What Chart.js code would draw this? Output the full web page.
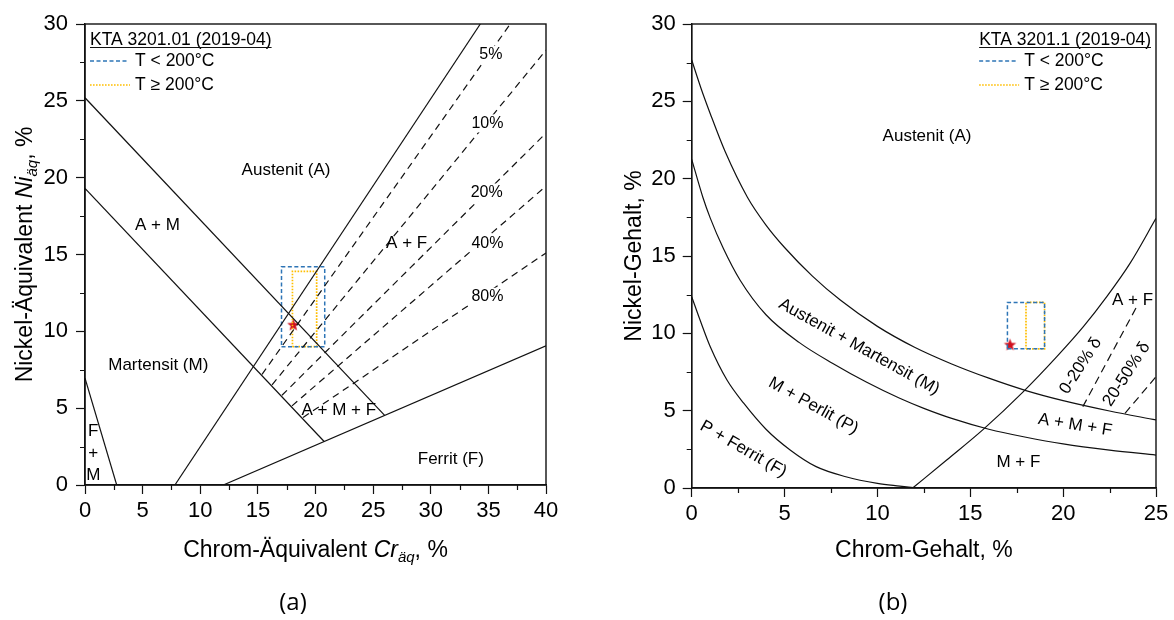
<!DOCTYPE html>
<html><head><meta charset="utf-8">
<script src="https://cdn.jsdelivr.net/npm/chart.js@4/dist/chart.umd.min.js"></script>
<style>
html,body{margin:0;padding:0;background:#fff;}
#wrap{position:relative;width:1174px;height:620px;overflow:hidden;}
canvas{position:absolute;top:0;}
#ca{left:0px;}
#cb{left:587px;}
</style></head><body>
<div id="wrap"><canvas id="ca" width="587" height="620"></canvas><canvas id="cb" width="587" height="620"></canvas></div>
<script>
// ================= (a) Schaeffler diagram =================
const aXMajor = [0, 5, 10, 15, 20, 25, 30, 35, 40];
const aXMinor = [2.5, 7.5, 12.5, 17.5, 22.5, 27.5, 32.5, 37.5];
const aYMajor = [0, 5, 10, 15, 20, 25, 30];
const aYMinor = [2.5, 7.5, 12.5, 17.5, 22.5, 27.5];

// solid phase boundaries (Cr-eq, Ni-eq)
const aAM_x  = [0, 26.0];   const aAM_y  = [25.2, 4.53];
const aM_x   = [0, 20.75];  const aM_y   = [19.3, 2.83];
const aA_x   = [7.8, 34.3]; const aA_y   = [0, 30];
const aF_x   = [12, 40];    const aF_y   = [0, 9.06];
const aFM_x  = [0, 2.75];   const aFM_y  = [6.95, 0];
// ferrite iso-lines
const aF5_x  = [15.36, 36.9]; const aF5_y  = [7.2, 30];
const aF10_x = [16.23, 40];   const aF10_y = [6.52, 28.3];
const aF20_x = [17.09, 40];   const aF20_y = [5.84, 22.9];
const aF40_x = [17.96, 40];   const aF40_y = [5.15, 19.45];
const aF80_x = [18.92, 40];   const aF80_y = [4.39, 15.1];
// KTA ranges and material point
const aBlueCr = [17.05, 20.8];   const aBlueNi = [9.0, 14.2];
const aOrangeCr = [18.0, 20.1];  const aOrangeNi = [9.0, 13.9];
const aStarCr = [18.07];         const aStarNi = [10.4];
// region labels
const aLabelText = ['Austenit (A)', 'A + M', 'A + F', 'Martensit (M)', 'A + M + F', 'Ferrit (F)', 'F', '+', 'M'];
const aLabelCr   = [17.44, 6.29, 27.91, 6.36, 22.02, 31.74, 0.72, 0.72, 0.72];
const aLabelNi   = [20.49, 16.92, 15.73, 7.76, 4.88, 1.68, 3.47, 2.06, 0.65];
const aPctText = ['5%', '10%', '20%', '40%', '80%'];
const aPctCr   = [35.21, 34.92, 34.85, 34.92, 34.92];
const aPctNi   = [27.98, 23.53, 19.03, 15.73, 12.25];

// ================= (b) Strauss-Maurer diagram =================
const bXMajor = [0, 5, 10, 15, 20, 25];
const bXMinor = [2.5, 7.5, 12.5, 17.5, 22.5];
const bYMajor = [0, 5, 10, 15, 20, 25, 30];
const bYMinor = [2.5, 7.5, 12.5, 17.5, 22.5, 27.5];

const bA_x = [0, 0.5, 1, 1.8, 3, 4, 5, 6.5, 8, 10, 12, 14, 16, 18, 20, 22.5, 25];
const bA_y = [27.67, 25.85, 24.2, 21.75, 18.8, 17.0, 15.55, 13.7, 12.15, 10.45, 9.1, 8.02, 7.1, 6.3, 5.65, 4.98, 4.4];
const bM_x = [0, 0.6, 1, 1.7, 2.6, 4, 5.8, 7.6, 9.4, 11.2, 12.5, 14, 16, 18, 20, 22.5, 25];
const bM_y = [21.25, 18.8, 17.45, 15.5, 13.45, 11.2, 9.4, 8.05, 6.85, 5.8, 5.15, 4.5, 3.8, 3.28, 2.85, 2.45, 2.13];
const bP_x = [0, 0.45, 1, 1.9, 2.8, 4, 5.3, 6.7, 8.3, 10, 11.2, 11.93];
const bP_y = [12.37, 10.86, 9.13, 6.98, 5.48, 3.8, 2.46, 1.38, 0.73, 0.3, 0.12, 0.02];
const bF_x = [11.93, 13.73, 15.7, 17.86, 19.66, 21.09, 22.35, 23.6, 25];
const bF_y = [0.03, 1.81, 3.79, 6.23, 8.49, 10.43, 12.37, 14.52, 17.43];
const bD1_x = [21.06, 23.96]; const bD1_y = [5.26, 11.72];
const bD2_x = [23.33, 25];    const bD2_y = [4.83, 7.19];
const bBlueCr = [17, 19];   const bBlueNi = [9, 12];
const bOrangeCr = [18, 19]; const bOrangeNi = [9, 12];
const bStarCr = [17.14];    const bStarNi = [9.24];
const bLabelText = ['Austenit (A)', 'Austenit + Martensit (M)', 'M + Perlit (P)', 'P + Ferrit (F)', 'A + F', 'A + M + F', 'M + F', '0-20% δ', '20-50% δ'];
const bLabelCr   = [12.67, 9.01, 6.55, 2.78, 23.74, 20.64, 17.59, 20.95, 23.42];
const bLabelNi   = [22.77, 9.13, 5.31, 2.51, 12.15, 4.07, 1.65, 7.9, 7.36];
const bLabelRot  = [0, 29, 29, 30, 0, 9, 0, -57, -57];

// ================= helpers =================
const FONT = "'Liberation Sans', Arial, sans-serif";
const BLUE = '#2E75B6', ORANGE = '#FFBE00', STAR = '#D0101E', INK = '#111';

function pts(xs, ys) { return xs.map((v, i) => ({ x: v, y: ys[i] })); }
function rectPts(xr, yr) {
  return pts([xr[0], xr[1], xr[1], xr[0], xr[0]], [yr[0], yr[0], yr[1], yr[1], yr[0]]);
}
function line(xs, ys, opts) {
  return Object.assign({ data: pts(xs, ys), showLine: true, borderColor: INK, borderWidth: 1.2,
    pointRadius: 0, fill: false, tension: 0 }, opts || {});
}
function makeStar(r, color) {
  const s = Math.ceil(r * 2 + 2), c = document.createElement('canvas');
  c.width = s; c.height = s;
  const g = c.getContext('2d');
  g.fillStyle = color; g.beginPath();
  for (let i = 0; i < 10; i++) {
    const ang = -Math.PI / 2 + i * Math.PI / 5, rr = (i % 2) ? r * 0.42 : r;
    g.lineTo(s / 2 + rr * Math.cos(ang), s / 2 + rr * Math.sin(ang));
  }
  g.closePath(); g.fill();
  return c;
}
const starImg = makeStar(6.5, STAR);

function drawRich(ctx, parts, cx, cy, rot) {
  ctx.save();
  ctx.translate(cx, cy); ctx.rotate(rot || 0);
  ctx.textBaseline = 'alphabetic'; ctx.textAlign = 'left';
  let total = 0;
  parts.forEach(p => { ctx.font = p.font; p.w = ctx.measureText(p.t).width; total += p.w; });
  let x = -total / 2;
  ctx.fillStyle = '#000';
  parts.forEach(p => { ctx.font = p.font; ctx.fillText(p.t, x, 8 + (p.dy || 0)); x += p.w; });
  ctx.restore();
}

function makeDecor(cfg) {
  return {
    id: 'decor',
    afterDatasetsDraw(chart) {
      const { ctx, scales: { x, y } } = chart;
      ctx.save();
      ctx.textAlign = 'center'; ctx.textBaseline = 'middle';
      cfg.labels.text.forEach((t, i) => {
        ctx.save();
        ctx.translate(x.getPixelForValue(cfg.labels.cr[i]), y.getPixelForValue(cfg.labels.ni[i]));
        ctx.rotate(((cfg.labels.rot ? cfg.labels.rot[i] : 0)) * Math.PI / 180);
        ctx.font = '17px ' + FONT; ctx.fillStyle = '#000';
        ctx.fillText(t, 0, 0);
        ctx.restore();
      });
      if (cfg.pct) {
        ctx.font = '16px ' + FONT;
        cfg.pct.text.forEach((t, i) => {
          const px = x.getPixelForValue(cfg.pct.cr[i]), py = y.getPixelForValue(cfg.pct.ni[i]);
          const w = ctx.measureText(t).width;
          ctx.fillStyle = '#fff'; ctx.fillRect(px - w / 2 - 2, py - 9, w + 4, 18);
          ctx.fillStyle = '#000'; ctx.fillText(t, px, py);
        });
      }
      ctx.restore();
    },
    afterDraw(chart) {
      const { ctx, chartArea: ca, scales: { x, y } } = chart;
      ctx.save();
      // frame
      ctx.strokeStyle = INK; ctx.lineWidth = 1.4;
      ctx.strokeRect(ca.left, ca.top, ca.right - ca.left, ca.bottom - ca.top);
      // minor ticks
      ctx.lineWidth = 1.2; ctx.beginPath();
      cfg.xMinor.forEach(v => { const p = Math.round(x.getPixelForValue(v)) + 0.5; ctx.moveTo(p, ca.bottom); ctx.lineTo(p, ca.bottom + 5); });
      cfg.yMinor.forEach(v => { const p = Math.round(y.getPixelForValue(v)) + 0.5; ctx.moveTo(ca.left, p); ctx.lineTo(ca.left - 5, p); });
      ctx.stroke();
      // legend
      ctx.font = '17.5px ' + FONT; ctx.textBaseline = 'middle'; ctx.textAlign = 'left'; ctx.fillStyle = '#000';
      const tw = ctx.measureText(cfg.legendTitle).width;
      const lx = cfg.legendRight ? ca.right - 5 - tw : ca.left + 5;
      const ly = ca.top + 16;
      ctx.fillText(cfg.legendTitle, lx, ly);
      ctx.lineWidth = 1; ctx.beginPath(); ctx.moveTo(lx, ly + 7.5); ctx.lineTo(lx + tw, ly + 7.5); ctx.stroke();
      ctx.lineWidth = 1.4;
      ctx.strokeStyle = BLUE; ctx.setLineDash([4, 2.5]);
      ctx.beginPath(); ctx.moveTo(lx, ly + 21); ctx.lineTo(lx + 39, ly + 21); ctx.stroke();
      ctx.strokeStyle = ORANGE; ctx.setLineDash([1.6, 1.4]);
      ctx.beginPath(); ctx.moveTo(lx, ly + 45); ctx.lineTo(lx + 40, ly + 45); ctx.stroke();
      ctx.setLineDash([]);
      ctx.fillText('T < 200°C', lx + 45, ly + 21);
      ctx.fillText('T ≥ 200°C', lx + 45, ly + 45);
      // axis titles
      const cxm = (ca.left + ca.right) / 2, cym = (ca.top + ca.bottom) / 2;
      drawRich(ctx, cfg.xTitle, cxm, 549, 0);
      drawRich(ctx, cfg.yTitle, cfg.yTitleX, cym, -Math.PI / 2);
      // caption
      ctx.font = "24px 'Open Sans', 'DejaVu Sans', sans-serif"; ctx.textAlign = 'center'; ctx.textBaseline = 'middle'; ctx.fillStyle = '#000';
      ctx.fillText(cfg.caption, cfg.captionX, 603);
      ctx.restore();
    }
  };
}

function axisCfg(min, max, majors, labelPad, fit) {
  return {
    type: 'linear', min: min, max: max,
    afterBuildTicks: s => { s.ticks = majors.map(v => ({ value: v })); },
    afterFit: fit,
    ticks: { autoSkip: false, maxRotation: 0, padding: labelPad, color: '#000', font: { family: FONT, size: 22 } },
    grid: { display: true, drawOnChartArea: false, drawTicks: true, tickLength: 9, tickColor: INK, tickWidth: 1.2 },
    border: { display: true, color: INK, width: 1.4 }
  };
}

const N = '23px ' + FONT, I = 'italic 23px ' + FONT, S = 'italic 15px ' + FONT;
const blueRect = { showLine: true, borderColor: BLUE, borderWidth: 1.5, borderDash: [4, 2.5], pointRadius: 0 };
const orangeRect = { showLine: true, borderColor: ORANGE, borderWidth: 1.7, borderDash: [1.6, 1.4], pointRadius: 0 };

// ---------- chart (a) ----------
new Chart(document.getElementById('ca'), {
  type: 'scatter',
  data: { datasets: [
    line(aAM_x, aAM_y), line(aM_x, aM_y), line(aA_x, aA_y), line(aF_x, aF_y), line(aFM_x, aFM_y),
    line(aF5_x, aF5_y, { borderDash: [7, 5] }), line(aF10_x, aF10_y, { borderDash: [7, 5] }),
    line(aF20_x, aF20_y, { borderDash: [7, 5] }), line(aF40_x, aF40_y, { borderDash: [7, 5] }),
    line(aF80_x, aF80_y, { borderDash: [7, 5] }),
    Object.assign({ data: rectPts(aBlueCr, aBlueNi) }, blueRect),
    Object.assign({ data: rectPts(aOrangeCr, aOrangeNi) }, orangeRect),
    { data: pts(aStarCr, aStarNi), showLine: false, pointStyle: starImg, pointRadius: 7 }
  ] },
  options: {
    responsive: false, animation: false, devicePixelRatio: 1,
    layout: { padding: { left: 0, right: 41, top: 24, bottom: 0 } },
    plugins: { legend: { display: false }, tooltip: { enabled: false } },
    scales: {
      x: axisCfg(0, 40, aXMajor, 4, s => { s.height = 135; }),
      y: axisCfg(0, 30, aYMajor, 8, s => { s.width = 85; })
    }
  },
  plugins: [makeDecor({
    xMinor: aXMinor, yMinor: aYMinor,
    labels: { text: aLabelText, cr: aLabelCr, ni: aLabelNi },
    pct: { text: aPctText, cr: aPctCr, ni: aPctNi },
    legendTitle: 'KTA 3201.01 (2019-04)', legendRight: false,
    xTitle: [{ t: 'Chrom-Äquivalent ', font: N }, { t: 'Cr', font: I }, { t: 'äq', font: S, dy: 5 }, { t: ', %', font: N }],
    yTitle: [{ t: 'Nickel-Äquivalent ', font: N }, { t: 'Ni', font: I }, { t: 'äq', font: S, dy: 5 }, { t: ', %', font: N }],
    yTitleX: 24, caption: '(a)', captionX: 293
  })]
});

// ---------- chart (b) ----------
const curve = { cubicInterpolationMode: 'monotone' };
new Chart(document.getElementById('cb'), {
  type: 'scatter',
  data: { datasets: [
    line(bA_x, bA_y, curve), line(bM_x, bM_y, curve), line(bP_x, bP_y, curve), line(bF_x, bF_y, curve),
    line(bD1_x, bD1_y, { borderDash: [8, 5] }), line(bD2_x, bD2_y, { borderDash: [8, 5] }),
    Object.assign({ data: rectPts(bBlueCr, bBlueNi) }, blueRect),
    Object.assign({ data: rectPts(bOrangeCr, bOrangeNi) }, orangeRect),
    { data: pts(bStarCr, bStarNi), showLine: false, pointStyle: starImg, pointRadius: 7 }
  ] },
  options: {
    responsive: false, animation: false, devicePixelRatio: 1,
    layout: { padding: { left: 0, right: 18, top: 24, bottom: 0 } },
    plugins: { legend: { display: false }, tooltip: { enabled: false } },
    scales: {
      x: axisCfg(0, 25, bXMajor, 4, s => { s.height = 132; }),
      y: axisCfg(0, 30, bYMajor, 7, s => { s.width = 104.7; })
    }
  },
  plugins: [makeDecor({
    xMinor: bXMinor, yMinor: bYMinor,
    labels: { text: bLabelText, cr: bLabelCr, ni: bLabelNi, rot: bLabelRot },
    legendTitle: 'KTA 3201.1 (2019-04)', legendRight: true,
    xTitle: [{ t: 'Chrom-Gehalt, %', font: N }],
    yTitle: [{ t: 'Nickel-Gehalt, %', font: N }],
    yTitleX: 46, caption: '(b)', captionX: 306
  })]
});
</script>
</body></html>
